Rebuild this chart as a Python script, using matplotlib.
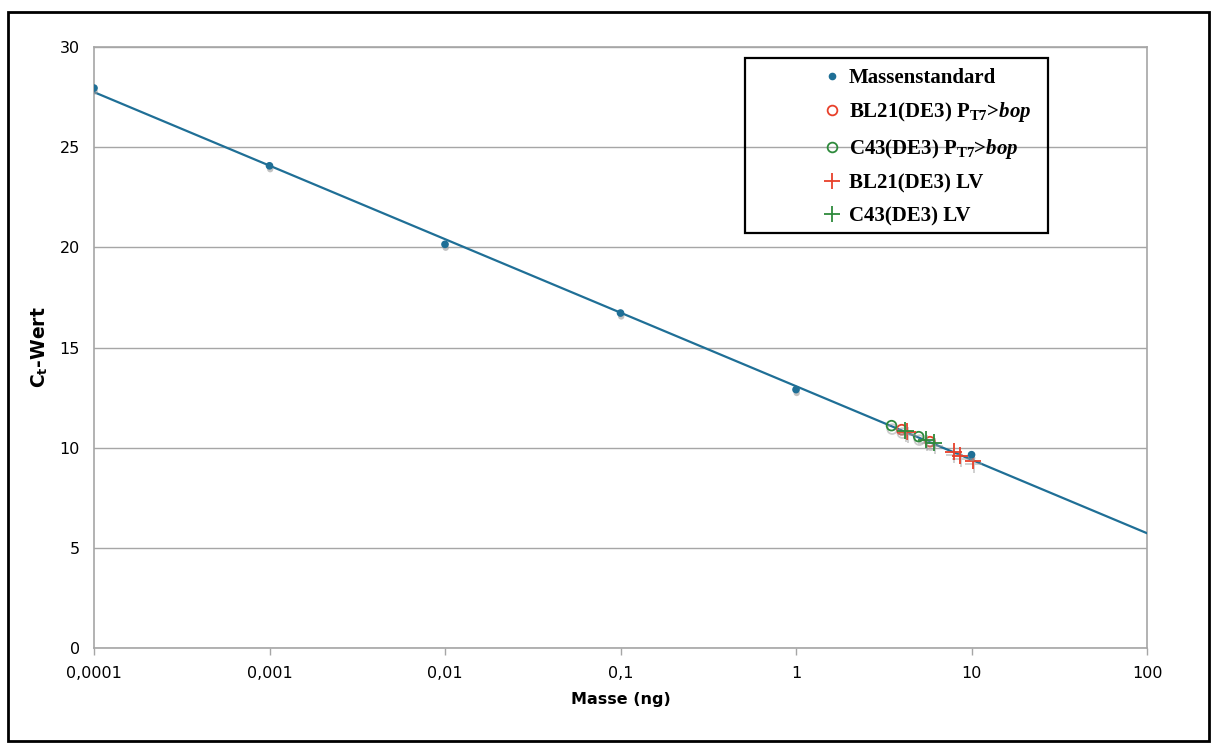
import numpy as np
import matplotlib
matplotlib.use("Agg")
import matplotlib.pyplot as plt
import matplotlib.patheffects as pe
from matplotlib.patches import Rectangle
from matplotlib.lines import Line2D

# =========================
# DATA
# =========================
std_mass = [0.0001, 0.001, 0.01, 0.1, 1, 10]
std_ct = [27.95, 24.07, 20.15, 16.72, 12.9, 9.65]

bl21_bop_mass = [4.0, 5.8]
bl21_bop_ct = [10.9, 10.3]

c43_bop_mass = [3.5, 5.0]
c43_bop_ct = [11.1, 10.55]

bl21_lv_mass = [4.3, 7.9, 8.6, 10.2]
bl21_lv_ct = [10.8, 9.8, 9.6, 9.35]

c43_lv_mass = [4.2, 5.5, 6.1]
c43_lv_ct = [10.85, 10.4, 10.25]

xticks = [0.0001, 0.001, 0.01, 0.1, 1, 10, 100]
xtick_labels = ["0,0001", "0,001", "0,01", "0,1", "1", "10", "100"]
yticks = [0, 5, 10, 15, 20, 25, 30]

# =========================
# STYLE
# =========================
plt.rcParams["mathtext.fontset"] = "custom"
plt.rcParams["mathtext.rm"] = "Liberation Serif:bold"
plt.rcParams["mathtext.it"] = "Liberation Serif:italic:bold"
plt.rcParams["mathtext.sf"] = "DejaVu Sans:bold"

BLUE = "#1f6f96"
RED = "#e8402a"
GREEN = "#2e8a3c"
GRID = "#a6a6a6"

shadow = [pe.SimplePatchShadow(offset=(0.5, -2.5), shadow_rgbFace="#9a9a9a", alpha=0.6), pe.Normal()]
shadow_line = [pe.SimpleLineShadow(offset=(0.5, -2.5), shadow_color="#9a9a9a", alpha=0.5), pe.Normal()]

fig = plt.figure(figsize=(12.16, 7.47), dpi=100)
ax = fig.add_axes([0.0773, 0.1325, 0.866, 0.8046])

# regression line through the mass standard
slope, icpt = np.polyfit(np.log10(std_mass), std_ct, 1)
xfit = np.array([xticks[0], xticks[-1]])
ax.plot(xfit, slope * np.log10(xfit) + icpt, color=BLUE, lw=1.6, zorder=3)

ax.plot(std_mass, std_ct, "o", ms=4.5, color=BLUE, zorder=5, path_effects=shadow)
ax.plot(bl21_bop_mass, bl21_bop_ct, "o", ms=7, mfc="none", mec=RED, mew=1.3,
        zorder=4, path_effects=shadow_line)
ax.plot(c43_bop_mass, c43_bop_ct, "o", ms=7, mfc="none", mec=GREEN, mew=1.3,
        zorder=4, path_effects=shadow_line)
ax.plot(bl21_lv_mass, bl21_lv_ct, "+", ms=12, mec=RED, mew=1.3,
        zorder=4, path_effects=shadow_line)
ax.plot(c43_lv_mass, c43_lv_ct, "+", ms=12, mec=GREEN, mew=1.3,
        zorder=4, path_effects=shadow_line)

ax.set_xscale("log")
ax.set_xlim(0.0001, 100)
ax.set_ylim(0, 30)
ax.set_xticks(xticks)
ax.set_xticklabels(xtick_labels)
ax.xaxis.set_minor_locator(matplotlib.ticker.NullLocator())
ax.set_yticks(yticks)
ax.tick_params(axis="both", labelsize=11.5, color=GRID, width=1)
ax.tick_params(axis="x", length=5, pad=8)
ax.tick_params(axis="y", length=0, pad=10)
ax.yaxis.grid(True, color=GRID, lw=1)
ax.set_axisbelow(True)
for s in ax.spines.values():
    s.set_color(GRID)
    s.set_linewidth(1.2)

ax.set_xlabel("Masse (ng)", fontsize=11.5, fontweight="bold", labelpad=8)
ax.set_ylabel(r"C$_\mathsf{t}$-Wert", fontsize=13.5, fontweight="bold", labelpad=7)

# legend: separate frame + frameless legend so markers sit where they do in the original
handles = [
    Line2D([], [], ls="none", marker="o", ms=4.5, color=BLUE),
    Line2D([], [], ls="none", marker="o", ms=7, mfc="none", mec=RED, mew=1.3),
    Line2D([], [], ls="none", marker="o", ms=7, mfc="none", mec=GREEN, mew=1.3),
    Line2D([], [], ls="none", marker="+", ms=12, mec=RED, mew=1.3),
    Line2D([], [], ls="none", marker="+", ms=12, mec=GREEN, mew=1.3),
]
labels = ["Massenstandard",
          r"BL21(DE3) P$_\mathrm{T7}$>$\mathit{bop}$",
          r"C43(DE3) P$_\mathrm{T7}$>$\mathit{bop}$",
          "BL21(DE3) LV",
          "C43(DE3) LV"]
fig.patches.append(Rectangle((745 / 1216, 1 - 233 / 747), 303 / 1216, 175 / 747,
                             transform=fig.transFigure, fill=False, ec="black", lw=1.6, zorder=10))
fig.legend(handles, labels, loc="upper left", bbox_to_anchor=(822 / 1216, 1 - 68 / 747),
           borderaxespad=0, borderpad=0, frameon=False,
           prop={"family": "Liberation Serif", "weight": "bold", "size": 15},
           handlelength=1.0, handletextpad=0.3, labelspacing=0.6, numpoints=1)

# outer border of the chart area
fig.patches.append(Rectangle((8 / 1216, 1 - 741 / 747), 1201 / 1216, 729 / 747,
                             transform=fig.transFigure, fill=False, ec="black", lw=2))

fig.savefig("out.png", dpi=100)
